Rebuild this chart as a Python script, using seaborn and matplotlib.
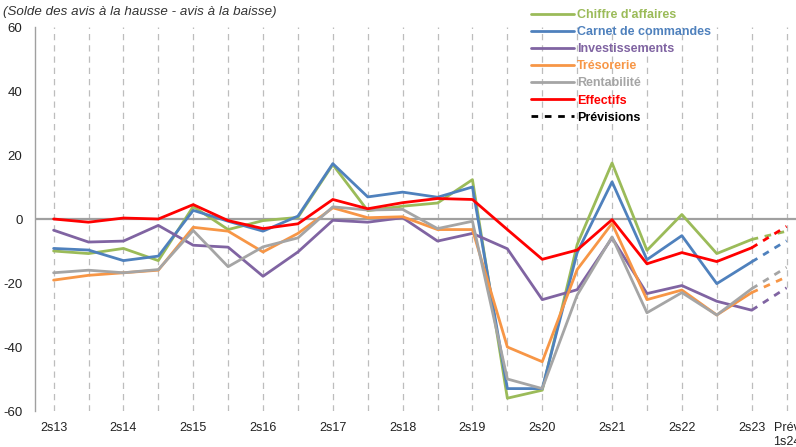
import numpy as np
import pandas as pd
import matplotlib
matplotlib.use("Agg")
import matplotlib.pyplot as plt
from matplotlib.lines import Line2D
import seaborn as sns

# semesters (2nd half 2013 -> 1st half 2024 forecast)
periods = ["2s13", "1s14", "2s14", "1s15", "2s15", "1s16", "2s16", "1s17", "2s17", "1s18",
           "2s18", "1s19", "2s19", "1s20", "2s20", "1s21", "2s21", "1s22", "2s22", "1s23",
           "2s23", "1s24"]
tick_labels = ["2s13", "2s14", "2s15", "2s16", "2s17", "2s18", "2s19", "2s20", "2s21",
               "2s22", "2s23", "Prév\n1s24"]

chiffre_affaires = [-10, -10.8, -9.2, -13, 3.9, -3.3, -0.5, 0.5, 17, 2.6, 4, 5, 12.3,
                    -56, -53.5, -8, 17.5, -9.8, 1.4, -10.8, -6.4, -3.8]
carnet = [-9.2, -9.7, -13, -11.6, 2.7, -0.7, -3.8, 0.9, 17.3, 6.9, 8.4, 6.8, 10,
          -53, -53, -10.5, 11.6, -12.7, -5.2, -20.2, -13.4, -6.8]
investissements = [-3.5, -7.2, -6.9, -2, -8.2, -8.8, -17.9, -10.3, -0.4, -1, 0.4, -6.9, -4.5,
                   -9.3, -25.2, -22.1, -5.9, -23.3, -20.8, -25.7, -28.5, -21.5]
tresorerie = [-19.1, -17.6, -16.8, -16, -2.6, -3.8, -10.3, -4.5, 3.5, 0.4, 0.7, -3.3, -3.3,
              -40, -44.6, -15.8, -1.4, -25.2, -22.2, -30, -23, -18.1]
rentabilite = [-16.8, -16, -16.8, -15.8, -3.6, -14.9, -8.7, -5.9, 3.8, 2.8, 3, -3, -0.7,
               -50, -53, -23.8, -5.6, -29.3, -23, -30, -21.8, -15.1]
effectifs = [0, -1, 0.3, 0, 4.5, -0.5, -3, -1.5, 6.1, 3.2, 5.1, 6.4, 6.1,
             -3.3, -12.6, -9.7, -0.2, -14, -10.5, -13.3, -9, -2.3]

series_names = ["Chiffre d'affaires", "Carnet de commandes", "Investissements",
                "Trésorerie", "Rentabilité", "Effectifs"]
series_values = [chiffre_affaires, carnet, investissements, tresorerie, rentabilite, effectifs]
colors = ["#9BBB59", "#4F81BD", "#8064A2", "#F79646", "#A5A5A5", "#FF0000"]

# long format table
rows = []
for name, vals in zip(series_names, series_values):
    for i, v in enumerate(vals):
        rows.append({"serie": name, "idx": i, "periode": periods[i], "solde": v})
df = pd.DataFrame(rows)
n = len(periods)
df_obs = df[df["idx"] <= n - 2]
df_prev = df[df["idx"] >= n - 2]

sns.set_style("white")
plt.rcParams["font.family"] = ["Liberation Sans", "DejaVu Sans"]
plt.rcParams["axes.unicode_minus"] = False

fig = plt.figure(figsize=(7.96, 4.47), dpi=100)
ax = fig.add_axes([35 / 796, 36 / 447, 1 - 35 / 796, 384 / 447])

# vertical dashed grid at each semester
for i in range(n):
    ax.axvline(i, color="#BDBDBD", lw=0.9, ls=(0, (5, 4)), zorder=0)
ax.axhline(0, color="#A0A0A0", lw=1.6, zorder=1)

palette = dict(zip(series_names, colors))
sns.lineplot(data=df_obs, x="idx", y="solde", hue="serie", hue_order=series_names,
             palette=palette, lw=2, legend=False, ax=ax, zorder=3)
sns.lineplot(data=df_prev, x="idx", y="solde", hue="serie", hue_order=series_names,
             palette=palette, lw=2, linestyle=(0, (2.4, 2.4)), legend=False, ax=ax, zorder=3)

ax.set_xlim(-0.533, 21.27)
ax.set_ylim(-60, 60)
ax.set_yticks(np.arange(-60, 61, 20))
ax.set_xticks(list(range(0, n - 1, 2)) + [n - 1])
ax.set_xticklabels(tick_labels)
ax.set_xlabel("")
ax.set_ylabel("")
ax.tick_params(axis="x", length=0, pad=8, labelsize=9, colors="#222222")
ax.tick_params(axis="y", length=4, width=1, direction="out",
               pad=5, labelsize=9.5, labelcolor="#222222", color="#A0A0A0")
for s in ["top", "right", "bottom"]:
    ax.spines[s].set_visible(False)
ax.spines["left"].set_color("#A0A0A0")
ax.spines["left"].set_linewidth(1)

fig.text(3 / 796, 1 - 15 / 447, "(Solde des avis à la hausse - avis à la baisse)",
         fontsize=9.6, style="italic", color="#333333", va="baseline", ha="left")

handles = [Line2D([0], [0], color=c, lw=2) for c in colors]
handles.append(Line2D([0], [0], color="black", lw=2, ls=(0, (2.4, 2.4))))
labels = series_names + ["Prévisions"]
leg = fig.legend(handles, labels, loc="upper left", bbox_to_anchor=(531 / 796, 1 - 9 / 447),
                 frameon=False, borderpad=0, borderaxespad=0, handlelength=3.4,
                 handletextpad=0.3, labelspacing=0.41,
                 prop={"size": 9, "weight": "bold"})
for t, c in zip(leg.get_texts(), colors + ["black"]):
    t.set_color(c)

fig.savefig("out.png", dpi=100)
